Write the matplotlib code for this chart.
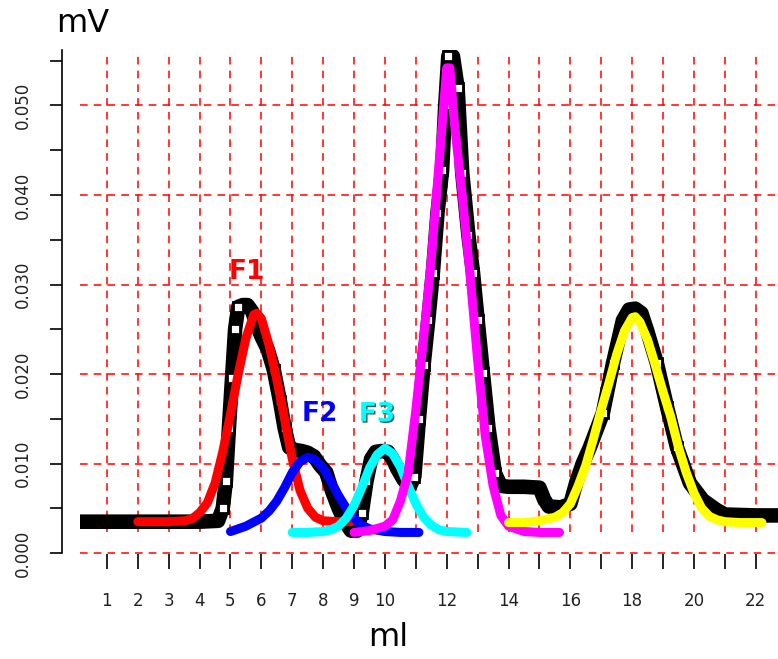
import matplotlib
matplotlib.use("Agg")
import matplotlib.pyplot as plt
import matplotlib.patheffects as pe
import numpy as np

# observed signal (mV vs ml)
obs_x = [0.13, 1.0, 2.0, 3.0, 4.0, 4.6, 4.75, 4.85, 4.95, 5.05, 5.15, 5.25, 5.4, 5.55, 5.7,
         5.85, 6.0, 6.2, 6.4, 6.6, 6.75, 6.9, 7.1, 7.3, 7.5, 7.7, 7.9, 8.1, 8.3, 8.5, 8.7,
         8.9, 9.1, 9.25, 9.4, 9.55, 9.7, 9.9, 10.1, 10.25, 10.4, 10.6, 10.8, 10.95, 11.1,
         11.25, 11.4, 11.55, 11.7, 11.85, 11.95, 12.05, 12.2, 12.35, 12.5, 12.7, 12.85, 13.0,
         13.17, 13.35, 13.56, 13.75, 14.0, 14.5, 15.0, 15.15, 15.3, 15.7, 16.0, 16.2, 16.4,
         16.63, 17.05, 17.38, 17.7, 17.9, 18.1, 18.3, 18.48, 18.8, 19.13, 19.45, 19.87,
         20.29, 20.74, 21.0, 22.0, 22.75]
obs_y = [0.0035, 0.0035, 0.0035, 0.0035, 0.0035, 0.0036, 0.0050, 0.0080, 0.0140, 0.0195,
         0.0250, 0.0275, 0.0277, 0.0277, 0.0270, 0.0255, 0.0242, 0.0228, 0.0205, 0.0170,
         0.0140, 0.0118, 0.0115, 0.0114, 0.0112, 0.0108, 0.0098, 0.0090, 0.0068, 0.0050,
         0.0035, 0.0025, 0.0025, 0.0045, 0.0080, 0.0105, 0.0113, 0.0114, 0.0113, 0.0105,
         0.0094, 0.0082, 0.0074, 0.0085, 0.0150, 0.0210, 0.0260, 0.0313, 0.0380, 0.0428,
         0.0500, 0.0555, 0.0555, 0.0520, 0.0425, 0.0355, 0.0313, 0.0260, 0.0201, 0.0140,
         0.0089, 0.0075, 0.0074, 0.0074, 0.0073, 0.0060, 0.0052, 0.0051, 0.0055, 0.0080,
         0.0100, 0.0118, 0.0156, 0.0212, 0.0260, 0.0272, 0.0273, 0.0268, 0.0249, 0.0212,
         0.0163, 0.0118, 0.0078, 0.0059, 0.0048, 0.0043, 0.0042, 0.0042]

# fitted fractions
f1_x = [2.0, 2.5, 3.0, 3.5, 3.75, 4.0, 4.25, 4.5, 4.75, 5.0, 5.25, 5.5, 5.75, 5.85, 6.0,
        6.25, 6.5, 6.75, 7.0, 7.25, 7.5, 7.75, 8.0, 8.5, 8.9]
f1_y = [0.0035, 0.0035, 0.0035, 0.0036, 0.0038, 0.0045, 0.0056, 0.0078, 0.0113, 0.0155,
        0.0200, 0.0240, 0.0266, 0.0268, 0.0262, 0.0232, 0.0194, 0.0150, 0.0105, 0.0070,
        0.0050, 0.0040, 0.0036, 0.0035, 0.0035]

f2_x = [5.0, 5.5, 6.0, 6.25, 6.5, 6.75, 7.0, 7.25, 7.5, 7.75, 8.0, 8.25, 8.5, 8.75, 9.0,
        9.25, 9.5, 10.0, 10.5, 11.1]
f2_y = [0.0024, 0.0030, 0.0039, 0.0047, 0.0058, 0.0073, 0.0090, 0.0102, 0.0107, 0.0104,
        0.0095, 0.0080, 0.0064, 0.0050, 0.0039, 0.0031, 0.0027, 0.0024, 0.0023, 0.0023]

f3_x = [7.0, 7.5, 8.0, 8.25, 8.5, 8.75, 9.0, 9.25, 9.5, 9.75, 10.0, 10.25, 10.5, 10.75,
        11.0, 11.25, 11.5, 11.75, 12.0, 12.65]
f3_y = [0.0023, 0.0023, 0.0024, 0.0026, 0.0030, 0.0039, 0.0053, 0.0073, 0.0095, 0.0110,
        0.0117, 0.0111, 0.0096, 0.0075, 0.0055, 0.0040, 0.0031, 0.0026, 0.0024, 0.0023]

f4_x = [9.0, 9.5, 10.0, 10.25, 10.5, 10.75, 11.0, 11.25, 11.5, 11.75, 12.0, 12.1, 12.25,
        12.5, 12.75, 13.0, 13.25, 13.5, 13.75, 14.0, 14.5, 15.0, 15.65]
f4_y = [0.0023, 0.0025, 0.0030, 0.0037, 0.0058, 0.0089, 0.0160, 0.0240, 0.0328, 0.0435,
        0.0542, 0.0542, 0.0480, 0.0400, 0.0313, 0.0215, 0.0130, 0.0075, 0.0042, 0.0030,
        0.0024, 0.0023, 0.0023]

f5_x = [14.0, 14.5, 15.0, 15.5, 15.75, 16.0, 16.25, 16.5, 16.75, 17.0, 17.25, 17.5, 17.75,
        18.0, 18.1, 18.25, 18.5, 18.75, 19.0, 19.25, 19.5, 19.75, 20.0, 20.25, 20.5, 20.75,
        21.0, 21.5, 22.2]
f5_y = [0.0034, 0.0034, 0.0036, 0.0040, 0.0045, 0.0055, 0.0075, 0.0098, 0.0128, 0.0160,
        0.0190, 0.0222, 0.0248, 0.0263, 0.0264, 0.0258, 0.0238, 0.0210, 0.0180, 0.0152,
        0.0118, 0.0090, 0.0067, 0.0050, 0.0041, 0.0037, 0.0035, 0.0034, 0.0034]

xticks = list(range(1, 23))
xlabels = [str(v) if (v <= 10 or v % 2 == 0) else '' for v in xticks]
yticks = [i * 0.005 for i in range(12)]
ylabels = [f'{v:.3f}' if i % 2 == 0 else '' for i, v in enumerate(yticks)]
grid_y = [0.0, 0.01, 0.02, 0.03, 0.04, 0.05]

W, H = 778, 659
fig = plt.figure(figsize=(W / 100, H / 100), dpi=100)
ax = fig.add_axes([80 / W, (H - 554) / H, (W - 80) / W, (554 - 50) / H])
ax.set_xlim(0.13, 22.72)
ax.set_ylim(-0.00011, 0.0562)

grid_kw = dict(color='red', linestyle=(0, (5, 4)), linewidth=1.1, zorder=1)
ax.vlines(xticks, 0.0023, 0.0556, **grid_kw)
ax.hlines(grid_y, 0.13, 22.72, **grid_kw)

# observed trace: thick black band, hollow squares show through on the steep flanks
ox = np.array(obs_x)
oy = np.array(obs_y)
ax.plot(ox, oy, color='black', linewidth=10.5, solid_capstyle='butt', zorder=2)
steep = np.abs(np.gradient(oy, ox)) > 0.012
ax.plot(ox[steep], oy[steep], linestyle='none', marker='s', markersize=7.5,
        markerfacecolor='white', markeredgecolor='black', markeredgewidth=2, zorder=2)

lw = 6.5
ax.plot(f1_x, f1_y, color='red', linewidth=lw, solid_capstyle='round', zorder=3)
ax.plot(f2_x, f2_y, color='blue', linewidth=lw, solid_capstyle='round', zorder=4)
ax.plot(f3_x, f3_y, color='cyan', linewidth=lw, solid_capstyle='round', zorder=5)
ax.plot(f4_x, f4_y, color='magenta', linewidth=lw, solid_capstyle='round', zorder=6)
ax.plot(f5_x, f5_y, color='yellow', linewidth=lw, solid_capstyle='round', zorder=7)

lab_kw = dict(fontsize=19, fontweight='bold', ha='center', va='center', zorder=8)
ax.text(5.53, 0.0314, 'F1', color='red', **lab_kw)
ax.text(7.9, 0.0155, 'F2', color='blue', **lab_kw)
ax.text(9.74, 0.0155, 'F3', color='cyan',
        path_effects=[pe.SimplePatchShadow(offset=(1, -1), shadow_rgbFace='#1a4a4a', alpha=0.9),
                      pe.Normal()], **lab_kw)

for s in ['top', 'right', 'bottom']:
    ax.spines[s].set_visible(False)
ax.spines['left'].set_position(('outward', 13))
ax.spines['left'].set_bounds(0, 0.0562)
ax.spines['left'].set_linewidth(1.2)

ax.set_xticks(xticks)
ax.set_xticklabels(xlabels, fontsize=12, color='#222222')
ax.set_yticks(yticks)
ax.set_yticklabels(ylabels, fontsize=12, rotation=90, va='center', color='#222222')
ax.tick_params(axis='x', length=11, width=1.2, pad=16, direction='out')
ax.tick_params(axis='y', length=8.5, width=1.2, pad=13, direction='out')

fig.text(83 / W, 1 - 23 / H, 'mV', fontsize=23, ha='center', va='center')
fig.text(388 / W, 1 - 638 / H, 'ml', fontsize=23, ha='center', va='center')

fig.savefig('out.png', dpi=100)
plt.close(fig)
